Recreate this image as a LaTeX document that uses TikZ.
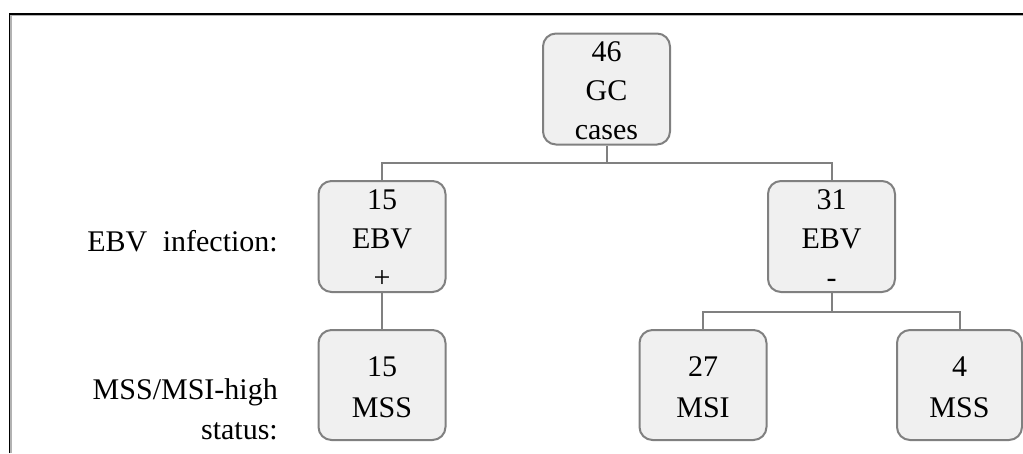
\documentclass[tikz,border=0pt]{standalone}
\usepackage{fontspec}
\setmainfont{Liberation Serif}
\usetikzlibrary{calc}
\definecolor{boxfill}{HTML}{F0F0F0}
\definecolor{boxline}{HTML}{808080}
\newcommand{\topstrut}{\rule{0pt}{24pt}}
\begin{document}
\begin{tikzpicture}[x=1pt,y=-1pt,
  casebox/.style={draw=boxline, line width=2pt, fill=boxfill, rounded corners=13pt,
    minimum width=127pt, inner sep=0pt, align=center},
  tallbox/.style={casebox, minimum height=111pt, font=\fontsize{30}{39}\selectfont},
  shortbox/.style={casebox, minimum height=110pt, font=\fontsize{30}{41}\selectfont},
  link/.style={draw=boxline, line width=2pt},
  lbl/.style={font=\fontsize{30}{40}\selectfont, inner sep=0pt}]
\useasboundingbox (0,0) rectangle (1023,453);
% frame
\draw[gray!60, line width=1.5pt] (11,453) -- (11,15.5) -- (1023,15.5);
\draw[black, line width=1.5pt] (9.5,453) -- (9.5,14) -- (1023,14);
% boxes
\node[tallbox] (root) at (606.5,89) {\topstrut 46\\GC\\cases};
\node[tallbox] (ebvp) at (382,236.5) {\topstrut 15\\EBV\\+};
\node[tallbox] (ebvn) at (831.5,236.5) {\topstrut 31\\EBV\\-};
\node[shortbox] (mssl) at (382,385) {\topstrut 15\\MSS};
\node[shortbox] (msi) at (703,385) {\topstrut 27\\MSI};
\node[shortbox, minimum width=125pt] (mssr) at (959.5,385) {\topstrut 4\\MSS};
% labels
\node[lbl, anchor=base east] (lblebv) at (278,251) {EBV\hspace{8pt} infection:};
\node[lbl, anchor=east, align=right] (lblmss) at (278,409) {MSS/MSI-high\\status:};
% connectors
\draw[link] (root.south) -- ++(0,17.5) -| (ebvp.north);
\draw[link] (root.south) -- ++(0,17.5) -| (ebvn.north);
\draw[link] (ebvp.south) -- (mssl.north);
\draw[link] (ebvn.south) -- ++(0,19) -| (msi.north);
\draw[link] (ebvn.south) -- ++(0,19) -| (mssr.north);
\end{tikzpicture}
\end{document}
